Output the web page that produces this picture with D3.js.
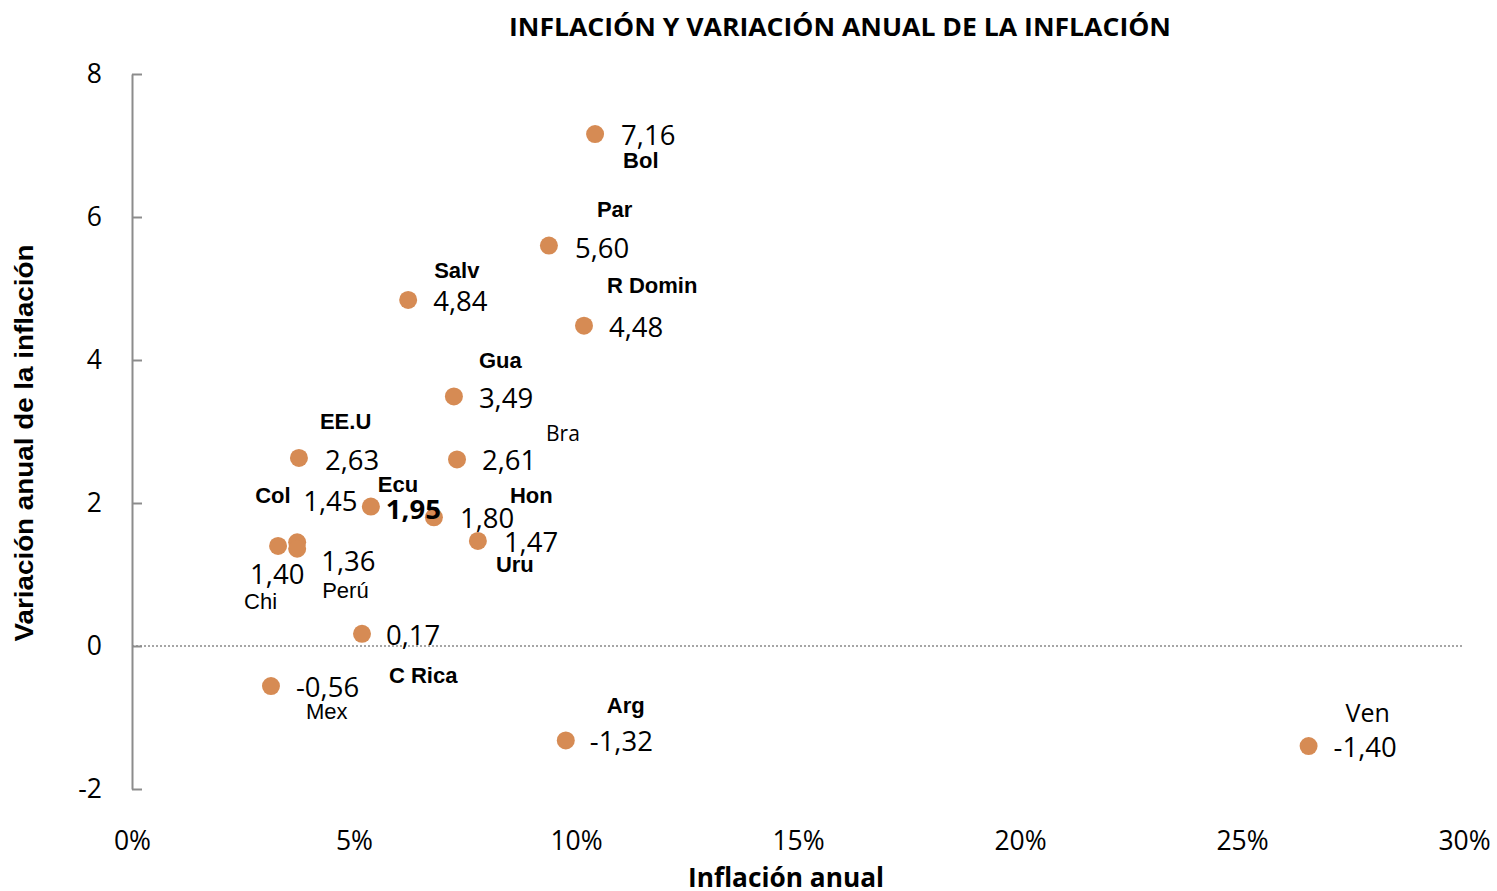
<!DOCTYPE html>
<html>
<head>
<meta charset="utf-8">
<script src="https://cdn.jsdelivr.net/npm/d3@7/dist/d3.min.js"></script>
<style>
  body { margin: 0; background: #fff; }
  svg { display: block; }
  .val { font-family: "Open Sans", sans-serif; font-size: 27.5px; fill: #000; }
  .name { font-family: "Liberation Sans", Arial, sans-serif; font-size: 22px; font-weight: bold; fill: #000; }
  .name.thin { font-weight: normal; }
  .axis text { font-family: "Open Sans", sans-serif; font-size: 26.5px; fill: #000; }
</style>
</head>
<body>
<div id="chart"></div>
<script>
// data
var countries = ["Bol", "Par", "Salv", "R Domin", "Gua", "EE.U", "Bra", "Ecu", "Hon", "Uru", "Col", "Perú", "Chi", "C Rica", "Mex", "Arg", "Ven"];
var inflation = [10.43, 9.39, 6.22, 10.18, 7.25, 3.76, 7.32, 5.38, 6.80, 7.79, 3.72, 3.72, 3.29, 5.18, 3.13, 9.77, 26.5];
var variation = [7.16, 5.60, 4.84, 4.48, 3.49, 2.63, 2.61, 1.95, 1.80, 1.47, 1.45, 1.36, 1.40, 0.17, -0.56, -1.32, -1.40];
var xTicks = [0, 5, 10, 15, 20, 25, 30];
var yTicks = [-2, 0, 2, 4, 6, 8];

// label placement (pixel offsets from the dot), kept apart from the data
var placement = {
    "Bol":     { v: [26, 11],  n: [28, 34] },
    "Par":     { v: [26, 12],  n: [48, -29] },
    "Salv":    { v: [25, 11],  n: [26, -22] },
    "R Domin": { v: [25, 11],  n: [23, -33] },
    "Gua":     { v: [25, 12],  n: [25, -28] },
    "EE.U":    { v: [26, 12],  n: [21, -29] },
    "Bra":     { v: [25, 11],  n: [89, -18], thin: true },
    "Ecu":     { v: [15, 12],  n: [7, -15], boldVal: true },
    "Hon":     { v: [26, 11],  n: [76, -14] },
    "Uru":     { v: [26, 11],  n: [18, 31] },
    "Col":     { v: [6, -31],  n: [-42, -39] },
    "Perú":    { v: [24, 22],  n: [25, 49], thin: true, narrow: true },
    "Chi":     { v: [-28, 38], n: [-34, 63], thin: true, narrow: true },
    "C Rica":  { v: [24, 11],  n: [27, 49] },
    "Mex":     { v: [25, 11],  n: [35, 33], thin: true, narrow: true },
    "Arg":     { v: [24, 11],  n: [41, -27] },
    "Ven":     { v: [25, 11],  n: [37, -24], thin: true }
};

var data = countries.map(function(c, i) {
    return { name: c, x: inflation[i], y: variation[i] };
});

var W = 1497, H = 891;
var svg = d3.select("#chart").append("svg")
    .attr("width", W)
    .attr("height", H);

var x = d3.scaleLinear().domain([0, 30]).range([132, 1464]);
var y = d3.scaleLinear().domain([-2, 8]).range([789, 74]);

// title
svg.append("text")
    .attr("x", 840).attr("y", 36)
    .attr("text-anchor", "middle")
    .style("font-family", "'Open Sans', sans-serif")
    .style("font-size", "25px")
    .style("font-weight", "bold")
    .attr("textLength", 662)
    .attr("lengthAdjust", "spacingAndGlyphs")
    .text("INFLACIÓN Y VARIACIÓN ANUAL DE LA INFLACIÓN");

// zero line
svg.append("line")
    .attr("x1", x(0)).attr("x2", x(30))
    .attr("y1", y(0)).attr("y2", y(0))
    .attr("stroke", "#a6a6a6")
    .attr("stroke-width", 2)
    .attr("stroke-dasharray", "2,2");

// y axis
var yAxis = svg.append("g")
    .attr("class", "axis")
    .attr("transform", "translate(" + x(0) + ",0)")
    .call(d3.axisLeft(y).tickValues(yTicks).tickSizeInner(-10).tickSizeOuter(0).tickPadding(30)
        .tickFormat(function(d) { return d; }));
yAxis.selectAll("path, line").attr("stroke", "#8c8c8c").attr("stroke-width", 2);

// x axis (labels only)
var xAxis = svg.append("g")
    .attr("class", "axis")
    .attr("transform", "translate(0," + y(-2) + ")")
    .call(d3.axisBottom(x).tickValues(xTicks).tickSize(0).tickPadding(42)
        .tickFormat(function(d) { return d + "%"; }));
xAxis.select(".domain").remove();

// axis titles
svg.append("text")
    .attr("x", 786).attr("y", 887)
    .attr("text-anchor", "middle")
    .style("font-family", "'Open Sans', sans-serif")
    .style("font-size", "26px")
    .style("font-weight", "bold")
    .attr("textLength", 196)
    .attr("lengthAdjust", "spacingAndGlyphs")
    .text("Inflación anual");

svg.append("text")
    .attr("transform", "translate(33,443) rotate(-90)")
    .attr("text-anchor", "middle")
    .style("font-family", "'Liberation Sans', Arial, sans-serif")
    .style("font-size", "25px")
    .style("font-weight", "bold")
    .attr("textLength", 397)
    .attr("lengthAdjust", "spacingAndGlyphs")
    .text("Variación anual de la inflación");

// points first, labels on top
svg.append("g").selectAll("circle")
    .data(data)
    .enter().append("circle")
        .attr("cx", function(d) { return x(d.x); })
        .attr("cy", function(d) { return y(d.y); })
        .attr("r", 9)
        .attr("fill", "#d68b54");

var labels = svg.append("g");

labels.selectAll(".val")
    .data(data)
    .enter().append("text")
        .attr("class", "val")
        .attr("x", function(d) { return x(d.x) + placement[d.name].v[0]; })
        .attr("y", function(d) { return y(d.y) + placement[d.name].v[1]; })
        .style("font-weight", function(d) { return placement[d.name].boldVal ? "bold" : null; })
        .text(function(d) { return d3.format(".2f")(d.y).replace(".", ",").replace("−", "-"); });

labels.selectAll(".name")
    .data(data)
    .enter().append("text")
        .attr("class", function(d) { return placement[d.name].thin ? "name thin" : "name"; })
        .attr("x", function(d) { return x(d.x) + placement[d.name].n[0]; })
        .attr("y", function(d) { return y(d.y) + placement[d.name].n[1]; })
        .style("font-family", function(d) {
            var p = placement[d.name];
            if (p.narrow) return "'Liberation Sans Narrow', 'Liberation Sans', sans-serif";
            if (p.thin) return "'Open Sans', sans-serif";
            return null;
        })
        .style("font-size", function(d) {
            var p = placement[d.name];
            if (p.narrow) return "22px";
            if (d.name == "Ven") return "25px";
            if (d.name == "Bra") return "21px";
            return null;
        })
        .text(function(d) { return d.name; });
</script>
</body>
</html>
